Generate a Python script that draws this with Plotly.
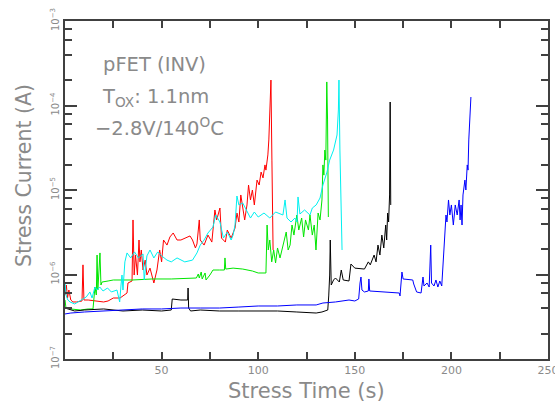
import plotly.graph_objects as go

# ---- data (time in s, current in A) ----
red_t = [0, 0.7, 1.3, 2, 3, 4.1, 6, 8.8, 9.3, 9.8, 12, 16.6, 20, 22.3, 25, 28.5, 30, 32.1, 32.6, 34.7,
         35.2, 35.8, 36.5, 37.5, 38.3, 38.8, 39.5, 40.4, 41.5, 42.4, 44, 46, 47.6, 49, 50, 51, 52.8, 54.3,
         56, 58, 60, 62, 64.7, 66, 67.5, 68.3, 69.5, 70, 72, 74, 76, 77.6, 78.5, 80.2, 81, 83, 84, 86, 88,
         89, 90, 91, 92, 93, 94.2, 95, 96, 97, 98, 99.4, 100.5, 101.5, 102.5, 103.5, 104, 105, 105.5,
         106.1, 106.6, 107.1, 107.7]
red_i = [5.72e-7, 7.51e-7, 5.27e-7, 6.55e-7, 4.99e-7, 4.73e-7, 4.73e-7, 4.86e-7, 1.30e-6, 4.99e-7,
         4.99e-7, 4.86e-7, 4.73e-7, 4.86e-7, 5.27e-7, 5.27e-7, 5.57e-7, 6.04e-7, 7.93e-7, 8.38e-7,
         4.42e-6, 9.86e-7, 1.70e-6, 9.86e-7, 2.56e-6, 1.41e-6, 1.95e-6, 1.13e-6, 1.48e-6, 9.86e-7,
         1.19e-6, 7.93e-7, 1.13e-6, 1.95e-6, 1.41e-6, 2.56e-6, 2.23e-6, 2.78e-6, 3.10e-6, 2.56e-6,
         2.56e-6, 2.70e-6, 2.86e-6, 2.56e-6, 2.06e-6, 2.30e-6, 4.42e-6, 2.56e-6, 2.23e-6, 2.93e-6,
         2.42e-6, 5.80e-6, 4.42e-6, 6.12e-6, 2.70e-6, 2.42e-6, 3.36e-6, 2.70e-6, 3.55e-6, 5.34e-6,
         4.18e-6, 8.73e-6, 5.80e-6, 4.42e-6, 6.65e-6, 1.146e-5, 7.62e-6, 1.0e-5, 6.65e-6, 1.31e-5,
         1.146e-5, 1.63e-5, 1.39e-5, 1.98e-5, 1.72e-5, 2.60e-5, 3.91e-5, 8.85e-5, 2.0e-4, 2.26e-5,
         1.95e-6]

green_t = [0, 0.5, 3, 8, 12, 14.5, 15.5, 16.2, 16.6, 17, 17.6, 18.1, 18.6, 19.2, 22.3, 25, 35, 45, 55,
           65, 68, 69, 69.5, 70.5, 71, 72.5, 73, 75, 76.6, 80, 82.5, 82.8, 83.2, 87, 92, 97, 100, 104,
           104.6, 105.2, 106, 107, 108, 109, 110, 111.3, 113, 114.5, 115.5, 116.5, 117.5, 118.5, 120,
           121, 122.5, 123.5, 124.5, 126, 126.8, 128, 129, 129.9, 131, 132, 133, 133.5, 134, 134.5,
           135, 135.5, 135.9, 136.3]
green_i = [4.99e-7, 4.01e-7, 3.91e-7, 3.80e-7, 3.91e-7, 3.91e-7, 7.11e-7, 5.72e-7, 1.70e-6, 6.55e-7,
           1.13e-6, 1.80e-6, 7.51e-7, 8.15e-7, 8.38e-7, 8.61e-7, 8.61e-7, 8.85e-7, 8.85e-7, 9.09e-7,
           9.09e-7, 1.014e-6, 9.09e-7, 1.07e-6, 8.85e-7, 1.042e-6, 8.61e-7, 9.86e-7, 1.13e-6, 1.13e-6,
           1.13e-6, 1.57e-6, 1.16e-6, 1.19e-6, 1.16e-6, 1.10e-6, 1.042e-6, 1.042e-6, 3.85e-6, 1.95e-6,
           2.56e-6, 1.41e-6, 1.95e-6, 1.37e-6, 2.06e-6, 1.57e-6, 2.23e-6, 3.18e-6, 1.95e-6, 2.23e-6,
           3.85e-6, 2.93e-6, 5.06e-6, 3.36e-6, 4.66e-6, 2.78e-6, 4.42e-6, 3.36e-6, 5.06e-6, 2.93e-6,
           3.85e-6, 1.95e-6, 5.34e-6, 4.42e-6, 7.62e-6, 1.98e-5, 1.50e-5, 2.97e-5, 2.26e-5, 1.90e-4,
           6.74e-5, 4.79e-6]

cyan_t = [0, 0.5, 1.5, 2.6, 5, 8.8, 11, 12.9, 14, 15.5, 16.6, 18, 19.7, 22, 24, 26.9, 27.5, 28.3, 29,
          29.5, 30, 31, 32.1, 34, 36, 38, 40.4, 41, 42.4, 44, 46, 48, 50, 52.8, 55, 58, 62, 66, 68.3,
          70, 72, 74, 76.6, 78, 80.2, 82, 84, 86, 87, 88, 89, 90, 92, 94.2, 96, 98, 100, 103, 106, 109,
          112.8, 113.9, 114.9, 117, 119, 120.1, 120.6, 121.6, 124, 126.8, 128, 130, 132, 133.5, 135.6,
          137, 139, 140.8, 141.5, 141.8, 142.3, 143.4]
cyan_i = [8.15e-7, 5.72e-7, 4.99e-7, 4.73e-7, 4.48e-7, 4.99e-7, 5.42e-7, 6.21e-7, 5.27e-7, 7.11e-7,
          6.55e-7, 7.11e-7, 6.38e-7, 6.92e-7, 6.21e-7, 6.55e-7, 5.57e-7, 4.73e-7, 7.51e-7, 9.86e-7,
          6.55e-7, 1.41e-6, 1.80e-6, 1.57e-6, 1.85e-6, 1.57e-6, 1.75e-6, 8.61e-7, 1.66e-6, 1.95e-6,
          1.57e-6, 1.85e-6, 1.66e-6, 1.48e-6, 1.41e-6, 1.57e-6, 1.41e-6, 1.48e-6, 1.80e-6, 2.23e-6,
          2.56e-6, 3.10e-6, 3.65e-6, 5.06e-6, 4.18e-6, 2.70e-6, 3.18e-6, 2.56e-6, 2.93e-6, 3.85e-6,
          8.49e-6, 6.65e-6, 7.02e-6, 5.49e-6, 4.66e-6, 5.49e-6, 4.79e-6, 5.34e-6, 4.66e-6, 5.49e-6,
          5.06e-6, 7.62e-6, 4.66e-6, 4.18e-6, 4.66e-6, 4.18e-6, 8.27e-6, 5.20e-6, 5.80e-6, 5.06e-6,
          6.12e-6, 6.65e-6, 8.04e-6, 1.146e-5, 1.63e-5, 2.26e-5, 2.97e-5, 4.48e-5, 8.85e-5, 2.0e-4,
          2.97e-5, 1.95e-6]

black_t = [0, 5, 10, 20, 30, 40, 50, 55, 55.5, 60, 63.5, 63.7, 64, 65, 70, 80, 90, 100, 110, 120, 130,
           133, 136, 136.5, 137, 137.3, 137.8, 139, 140, 142, 143, 144, 147, 148, 150, 155, 157, 158,
           160, 161, 162, 163, 164, 165, 166, 166.5, 167, 167.5, 168, 168.3, 168.6]
black_i = [4.01e-7, 3.70e-7, 3.80e-7, 3.91e-7, 3.70e-7, 3.80e-7, 3.70e-7, 3.80e-7, 5.13e-7, 4.99e-7,
           4.99e-7, 6.92e-7, 4.01e-7, 3.70e-7, 3.80e-7, 3.70e-7, 3.70e-7, 3.70e-7, 3.70e-7, 3.60e-7,
           3.50e-7, 3.60e-7, 3.80e-7, 5.57e-7, 9.86e-7, 2.56e-6, 7.51e-7, 8.61e-7, 9.09e-7, 8.15e-7,
           1.13e-6, 8.61e-7, 8.38e-7, 1.33e-6, 1.19e-6, 1.16e-6, 1.41e-6, 1.30e-6, 1.70e-6, 1.41e-6,
           2.23e-6, 1.70e-6, 2.93e-6, 2.06e-6, 3.85e-6, 2.56e-6, 5.34e-6, 4.18e-6, 8.73e-6, 1.10e-4,
           6.65e-6]

blue_t = [0, 3, 10, 20, 30, 40, 50, 60, 70, 80, 90, 100, 110, 120, 130, 133.5, 140, 147, 150, 152,
          152.7, 153.2, 153.7, 155, 157, 157.3, 157.7, 165, 173, 173.4, 174.4, 175, 180, 180.5, 182,
          184.3, 184.8, 185.3, 185.8, 187.4, 188.5, 188.9, 189.3, 189.7, 191, 192, 193, 194, 195,
          195.5, 196.2, 196.7, 197.2, 197.7, 198.5, 199.2, 200, 201, 202, 203, 204, 204.5, 205, 205.5,
          206, 207, 207.5, 208.2, 208.6, 209, 209.6, 210.1]
blue_i = [3.41e-7, 3.50e-7, 3.60e-7, 3.70e-7, 3.80e-7, 3.91e-7, 3.91e-7, 4.01e-7, 4.01e-7, 4.01e-7,
          4.12e-7, 4.24e-7, 4.24e-7, 4.36e-7, 4.36e-7, 4.60e-7, 4.73e-7, 4.99e-7, 4.86e-7, 5.13e-7,
          7.93e-7, 9.34e-7, 6.55e-7, 6.21e-7, 6.38e-7, 8.85e-7, 6.38e-7, 6.21e-7, 6.04e-7, 5.57e-7,
          1.07e-6, 8.85e-7, 8.61e-7, 7.72e-7, 6.21e-7, 6.04e-7, 7.31e-7, 9.34e-7, 7.31e-7, 7.93e-7,
          7.11e-7, 1.95e-6, 2.23e-6, 7.93e-7, 7.31e-7, 8.61e-7, 7.11e-7, 8.38e-7, 7.31e-7, 1.13e-6,
          1.95e-6, 3.36e-6, 5.06e-6, 4.18e-6, 7.62e-6, 5.06e-6, 6.65e-6, 3.85e-6, 6.65e-6, 5.06e-6,
          7.62e-6, 4.42e-6, 6.65e-6, 3.85e-6, 8.73e-6, 1.31e-5, 1.0e-5, 1.98e-5, 1.72e-5, 3.91e-5,
          8.85e-5, 1.26e-4]

x_tickvals = [50, 100, 150, 200, 250]
x_ticktext = ["50", "100", "150", "200", "250"]
x_minor = [25, 75, 125, 175, 225]
y_tickvals = [1e-7, 1e-6, 1e-5, 1e-4, 1e-3]
y_ticktext = ["10<sup>−7</sup>", "10<sup>−6</sup>", "10<sup>−5</sup>", "10<sup>−4</sup>", "10<sup>−3</sup>"]
y_minor = [m * 10.0 ** e for e in (-7, -6, -5, -4) for m in (2, 4, 6, 8)]

series = [
    (red_t, red_i, "#ff0000"),
    (green_t, green_i, "#00e600"),
    (cyan_t, cyan_i, "#00f0f0"),
    (black_t, black_i, "#000000"),
    (blue_t, blue_i, "#0000ff"),
]

fig = go.Figure()
for t, i, c in series:
    fig.add_trace(go.Scatter(x=t, y=i, mode="lines", line=dict(color=c, width=1),
                             showlegend=False, hoverinfo="skip"))

txt = "#8a8a8a"
axis_col = "#404040"
fig.update_layout(
    width=555, height=405,
    margin=dict(l=65, r=7, t=21, b=46, autoexpand=False),
    paper_bgcolor="white", plot_bgcolor="white",
    font=dict(family="DejaVu Sans", color=txt),
    xaxis=dict(range=[0, 250], tickvals=x_tickvals, ticktext=x_ticktext, automargin=False,
               ticks="inside", ticklen=7, tickwidth=1.5, tickcolor=axis_col,
               showline=True, linewidth=2, linecolor=axis_col, mirror="ticks",
               showgrid=False, zeroline=False, tickfont=dict(size=11, color=txt),
               ticklabeloverflow="allow",
               minor=dict(tickvals=x_minor, ticks="inside", ticklen=7, tickwidth=1.5,
                          tickcolor=axis_col, showgrid=False)),
    yaxis=dict(type="log", range=[-7, -3], tickvals=y_tickvals, ticktext=y_ticktext,
               automargin=False,
               ticks="inside", ticklen=12, tickwidth=1.5, tickcolor=axis_col,
               showline=True, linewidth=2, linecolor=axis_col, mirror="ticks",
               showgrid=False, zeroline=False, tickangle=-90,
               tickfont=dict(size=10, color=txt),
               minor=dict(tickvals=y_minor, ticks="inside", ticklen=7, tickwidth=1.5,
                          tickcolor=axis_col, showgrid=False)),
)

annos = [
    dict(text="pFET (INV)", x=0.0745, y=0.870),
    dict(text="T<sub>OX</sub>: 1.1nm", x=0.0725, y=0.775),
    dict(text="−2.8V/140<sup>O</sup>C", x=0.058, y=0.686),
]
for a in annos:
    fig.add_annotation(xref="paper", yref="paper", xanchor="left", yanchor="middle",
                       showarrow=False, font=dict(size=19.5, color=txt), **a)

fig.add_annotation(text="Stress Current (A)", xref="paper", yref="paper", x=-0.085, y=0.544,
                   textangle=-90, showarrow=False, font=dict(size=20.5, color=txt),
                   xanchor="center", yanchor="middle")
fig.add_annotation(text="Stress Time (s)", xref="paper", yref="paper", x=0.5, y=-0.095,
                   showarrow=False, font=dict(size=21, color=txt),
                   xanchor="center", yanchor="middle")

fig.write_html("out.html", config={"displayModeBar": False})

# remove the default page margin so the figure sits at the window's top-left corner
with open("out.html", "r", encoding="utf-8") as f:
    html = f.read()
html = html.replace("<head>", "<head><style>html,body{margin:0;padding:0;overflow:hidden;}</style>", 1)
with open("out.html", "w", encoding="utf-8") as f:
    f.write(html)
